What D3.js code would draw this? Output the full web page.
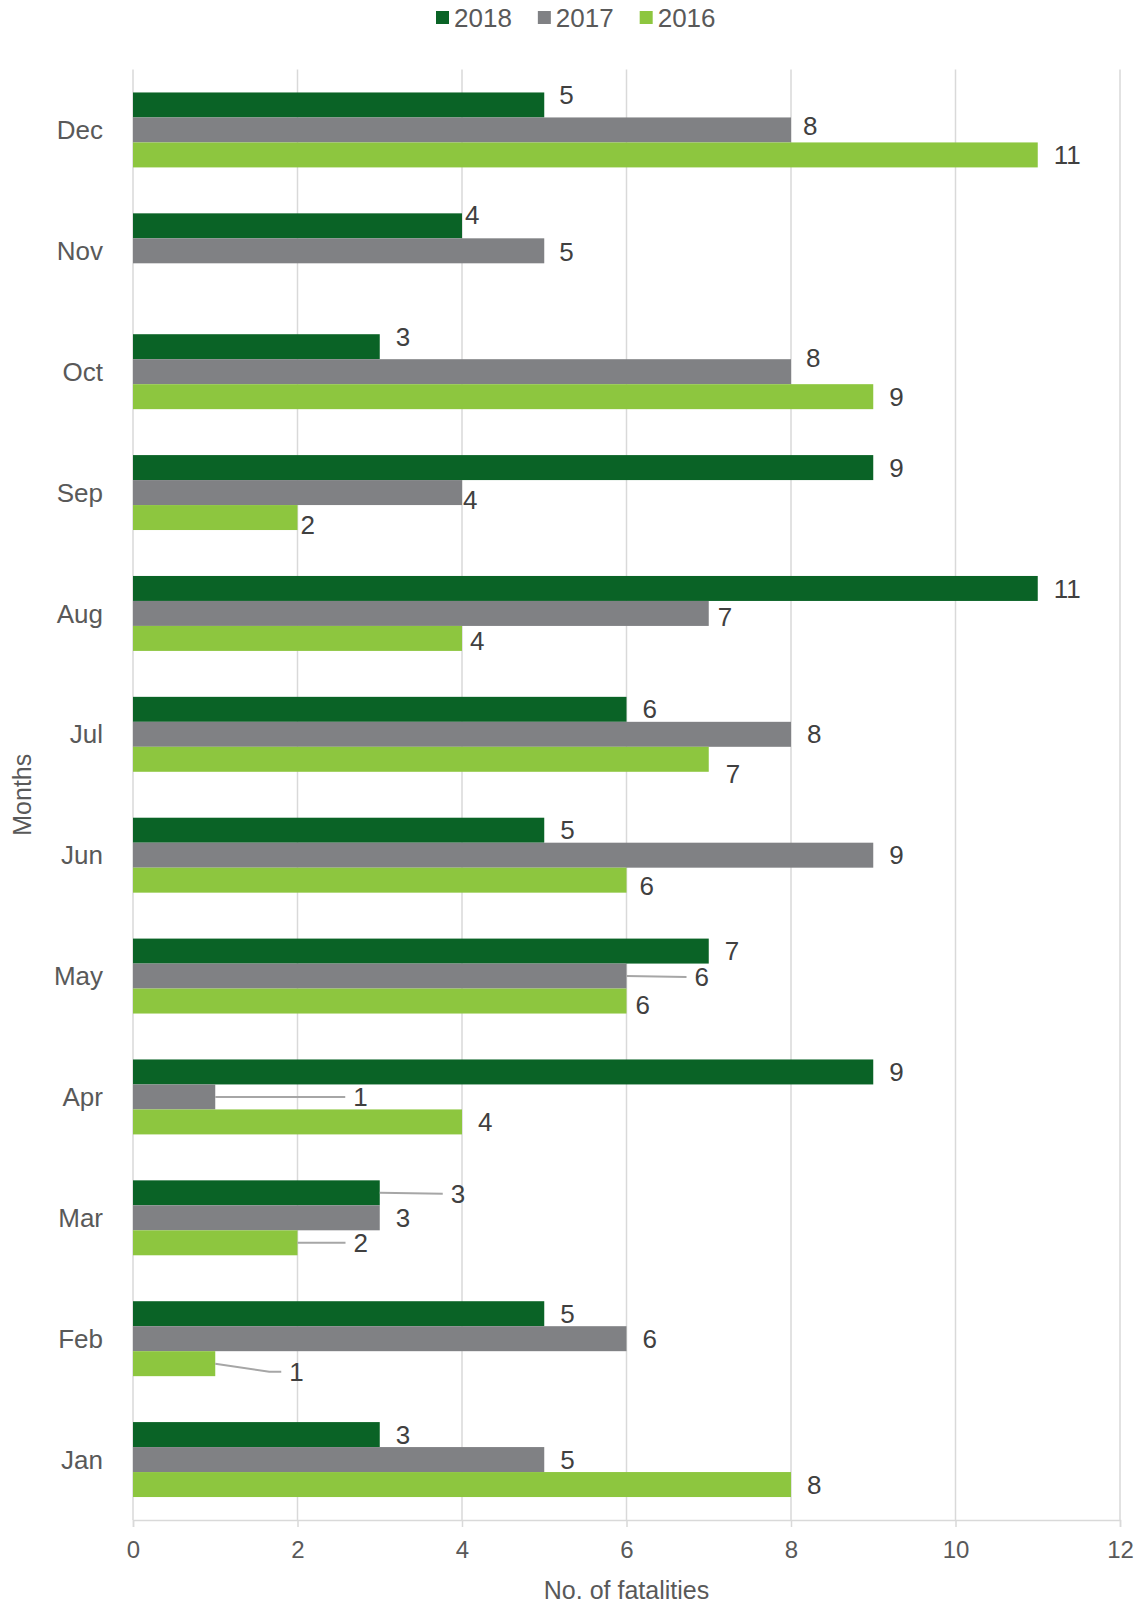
<!DOCTYPE html>
<html>
<head>
<meta charset="utf-8">
<script src="https://cdn.jsdelivr.net/npm/d3@7"></script>
<style>
  body { margin: 0; background: #fff; }
  text { font-family: "Liberation Sans", Arial, sans-serif; }
</style>
</head>
<body>
<div id="chart"></div>
<script>
var width = 1145, height = 1605;
var margin = {top: 69.5, right: 25, bottom: 85, left: 133};

// data
var months = ['Jan', 'Feb', 'Mar', 'Apr', 'May', 'Jun', 'Jul', 'Aug', 'Sep', 'Oct', 'Nov', 'Dec'];
var series = ['2018', '2017', '2016'];
var v2018 = [3, 5, 3, 9, 7, 5, 6, 11, 9, 3, 4, 5];
var v2017 = [5, 6, 3, 1, 6, 9, 8, 7, 4, 8, 5, 8];
var v2016 = [8, 1, 2, 4, 6, 6, 7, 4, 2, 9, null, 11];
var xTicks = [0, 2, 4, 6, 8, 10, 12];
var colors = {'2018': '#0a6326', '2017': '#808184', '2016': '#8dc63f'};

// hand placed labels (gap from bar end, vertical shift, leader line)
var labelAdjust = {
  'Dec-2018': [15, -10], 'Dec-2017': [12, -4],
  'Nov-2018': [3, -11], 'Nov-2017': [15, 1],
  'Oct-2018': [16, -10], 'Oct-2017': [15, -14],
  'Sep-2017': [1, 7], 'Sep-2016': [3, 7],
  'Aug-2017': [9, 3], 'Aug-2016': [8, 2],
  'Jul-2016': [17, 15], 'Jun-2016': [13, 6],
  'May-2017': [68, 1, true], 'May-2016': [9, 4],
  'Apr-2017': [138, 0, true],
  'Mar-2018': [71, 1, true], 'Mar-2016': [56, 0, true],
  'Feb-2016': [74, 8, 'bend']
};

var rows = months.map(function(m, i) {
  return {month: m, values: {'2018': v2018[i], '2017': v2017[i], '2016': v2016[i]}};
});

var svg = d3.select('#chart').append('svg')
    .attr('width', width)
    .attr('height', height);

var plotW = width - margin.left - margin.right;
var plotH = height - margin.top - margin.bottom;

var x = d3.scaleLinear().domain([0, 12]).range([margin.left, margin.left + plotW]);
var y = d3.scaleBand()
    .domain(months.slice().reverse())
    .range([margin.top, margin.top + plotH])
    .paddingInner(0.38)
    .paddingOuter(0.19);
var ySub = d3.scaleBand().domain(series).range([0, y.bandwidth()]);

// gridlines
svg.append('g').selectAll('line')
    .data(xTicks)
    .enter().append('line')
    .attr('x1', function(d) { return x(d); })
    .attr('x2', function(d) { return x(d); })
    .attr('y1', margin.top)
    .attr('y2', margin.top + plotH)
    .attr('stroke', '#d9d9d9')
    .attr('stroke-width', 1.5);

// x axis
var xAxis = svg.append('g')
    .attr('transform', 'translate(0,' + (margin.top + plotH) + ')')
    .call(d3.axisBottom(x).tickValues(xTicks).tickSize(7).tickPadding(14));
xAxis.select('.domain').attr('stroke', '#d9d9d9').attr('stroke-width', 1.5);
xAxis.selectAll('.tick line').attr('stroke', '#d9d9d9').attr('stroke-width', 1.5);
xAxis.selectAll('.tick text')
    .attr('fill', '#595959')
    .style('font-size', '24px')
    .style('font-family', '"Liberation Sans", Arial, sans-serif');

// month labels
svg.append('g').selectAll('text')
    .data(months)
    .enter().append('text')
    .attr('x', margin.left - 30)
    .attr('y', function(d) { return y(d) + y.bandwidth() / 2; })
    .attr('dy', '0.35em')
    .attr('text-anchor', 'end')
    .attr('fill', '#595959')
    .style('font-size', '26px')
    .text(function(d) { return d; });

// bars
var groups = svg.append('g').selectAll('g')
    .data(rows)
    .enter().append('g')
    .attr('transform', function(d) { return 'translate(0,' + y(d.month) + ')'; });

groups.selectAll('rect')
    .data(function(d) {
      return series.filter(function(s) { return d.values[s] != null; })
        .map(function(s) { return {month: d.month, s: s, v: d.values[s]}; });
    })
    .enter().append('rect')
    .attr('x', x(0))
    .attr('y', function(d) { return ySub(d.s); })
    .attr('width', function(d) { return x(d.v) - x(0); })
    .attr('height', ySub.bandwidth())
    .attr('fill', function(d) { return colors[d.s]; });

// data labels
var labels = groups.selectAll('.lbl')
    .data(function(d) {
      return series.filter(function(s) { return d.values[s] != null; })
        .map(function(s) {
          var adj = labelAdjust[d.month + '-' + s] || [16, 0];
          return {month: d.month, s: s, v: d.values[s], gap: adj[0], dy: adj[1], leader: adj[2]};
        });
    })
    .enter().append('g')
    .attr('class', 'lbl');

labels.filter(function(d) { return d.leader; })
    .append('path')
    .attr('d', function(d) {
      var x0 = x(d.v), y0 = ySub(d.s) + ySub.bandwidth() / 2;
      var x1 = x(d.v) + d.gap - 8, y1 = y0 + d.dy;
      if (d.leader === 'bend') {
        return 'M' + x0 + ',' + y0 + 'L' + (x1 - 12) + ',' + y1 + 'L' + x1 + ',' + y1;
      }
      return 'M' + x0 + ',' + y0 + 'L' + x1 + ',' + y1;
    })
    .attr('fill', 'none')
    .attr('stroke', '#a6a6a6')
    .attr('stroke-width', 2);

labels.append('text')
    .attr('x', function(d) { return x(d.v) + d.gap; })
    .attr('y', function(d) { return ySub(d.s) + ySub.bandwidth() / 2 + d.dy; })
    .attr('dy', '0.35em')
    .attr('fill', '#404040')
    .style('font-size', '26px')
    .text(function(d) { return d.v; });

// axis titles
svg.append('text')
    .attr('x', margin.left + plotW / 2)
    .attr('y', 1599)
    .attr('text-anchor', 'middle')
    .attr('fill', '#595959')
    .style('font-size', '25px')
    .text('No. of fatalities');

svg.append('text')
    .attr('transform', 'translate(31,' + (margin.top + plotH / 2) + ') rotate(-90)')
    .attr('text-anchor', 'middle')
    .attr('fill', '#595959')
    .style('font-size', '25px')
    .text('Months');

// legend
var legend = svg.append('g').attr('transform', 'translate(436,0)');
var lx = 0;
series.forEach(function(s) {
  legend.append('rect')
    .attr('x', lx)
    .attr('y', 11)
    .attr('width', 13)
    .attr('height', 13)
    .attr('fill', colors[s]);
  var t = legend.append('text')
    .attr('x', lx + 18)
    .attr('y', 27)
    .attr('fill', '#595959')
    .style('font-size', '26px')
    .text(s);
  lx += 18 + t.node().getComputedTextLength() + 26;
});
</script>
</body>
</html>
